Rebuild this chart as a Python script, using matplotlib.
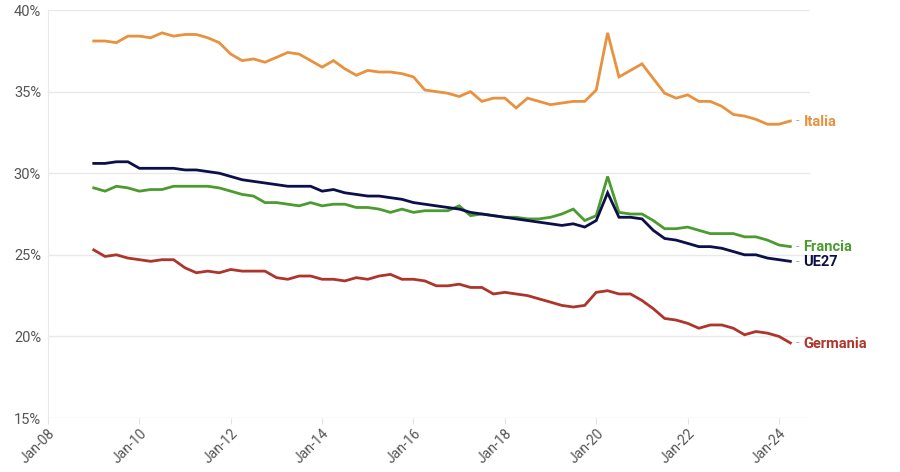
import pandas as pd
import matplotlib
matplotlib.use("Agg")
import matplotlib.pyplot as plt
import matplotlib.dates as mdates
from matplotlib.ticker import FuncFormatter

plt.rcParams['font.family'] = ['Roboto', 'DejaVu Sans']

# trimestri 2009Q1 - 2024Q2
dates = pd.date_range("2009-01-01", periods=62, freq="QS")

italia = [38.1, 38.1, 38.0, 38.4, 38.4, 38.3, 38.6, 38.4, 38.5, 38.5,
          38.3, 38.0, 37.3, 36.9, 37.0, 36.8, 37.1, 37.4, 37.3, 36.9,
          36.5, 36.9, 36.4, 36.0, 36.3, 36.2, 36.2, 36.1, 35.9, 35.1,
          35.0, 34.9, 34.7, 35.0, 34.4, 34.6, 34.6, 34.0, 34.6, 34.4,
          34.2, 34.3, 34.4, 34.4, 35.1, 38.6, 35.9, 36.3, 36.7, 35.8,
          34.9, 34.6, 34.8, 34.4, 34.4, 34.1, 33.6, 33.5, 33.3, 33.0,
          33.0, 33.2]
ue27 = [30.6, 30.6, 30.7, 30.7, 30.3, 30.3, 30.3, 30.3, 30.2, 30.2,
        30.1, 30.0, 29.8, 29.6, 29.5, 29.4, 29.3, 29.2, 29.2, 29.2,
        28.9, 29.0, 28.8, 28.7, 28.6, 28.6, 28.5, 28.4, 28.2, 28.1,
        28.0, 27.9, 27.8, 27.6, 27.5, 27.4, 27.3, 27.2, 27.1, 27.0,
        26.9, 26.8, 26.9, 26.7, 27.1, 28.8, 27.3, 27.3, 27.2, 26.5,
        26.0, 25.9, 25.7, 25.5, 25.5, 25.4, 25.2, 25.0, 25.0, 24.8,
        24.7, 24.6]
francia = [29.1, 28.9, 29.2, 29.1, 28.9, 29.0, 29.0, 29.2, 29.2, 29.2,
           29.2, 29.1, 28.9, 28.7, 28.6, 28.2, 28.2, 28.1, 28.0, 28.2,
           28.0, 28.1, 28.1, 27.9, 27.9, 27.8, 27.6, 27.8, 27.6, 27.7,
           27.7, 27.7, 28.0, 27.4, 27.5, 27.4, 27.3, 27.3, 27.2, 27.2,
           27.3, 27.5, 27.8, 27.1, 27.4, 29.8, 27.6, 27.5, 27.5, 27.1,
           26.6, 26.6, 26.7, 26.5, 26.3, 26.3, 26.3, 26.1, 26.1, 25.9,
           25.6, 25.5]
germania = [25.3, 24.9, 25.0, 24.8, 24.7, 24.6, 24.7, 24.7, 24.2, 23.9,
            24.0, 23.9, 24.1, 24.0, 24.0, 24.0, 23.6, 23.5, 23.7, 23.7,
            23.5, 23.5, 23.4, 23.6, 23.5, 23.7, 23.8, 23.5, 23.5, 23.4,
            23.1, 23.1, 23.2, 23.0, 23.0, 22.6, 22.7, 22.6, 22.5, 22.3,
            22.1, 21.9, 21.8, 21.9, 22.7, 22.8, 22.6, 22.6, 22.2, 21.7,
            21.1, 21.0, 20.8, 20.5, 20.7, 20.7, 20.5, 20.1, 20.3, 20.2,
            20.0, 19.6]

series = [
    ("Italia", italia, "#e8913f"),
    ("Francia", francia, "#4b9b2e"),
    ("UE27", ue27, "#0c0f4a"),
    ("Germania", germania, "#ad352b"),
]

fig = plt.figure(figsize=(9, 4.72), dpi=100)
ax = fig.add_axes([0.0533, 0.1144, 0.8467, 0.8644])

for name, vals, col in series:
    ax.plot(dates, vals, color=col, lw=2.0, solid_joinstyle="miter")
    # etichetta a fine linea
    ax.annotate("-", xy=(dates[-1], vals[-1]), xytext=(4, 0),
                textcoords="offset points", va="center", ha="left",
                color="#aaaaaa", fontsize=9)
    ax.annotate(name, xy=(dates[-1], vals[-1]), xytext=(9.5, -0.5),
                textcoords="offset points", va="center", ha="left",
                color=col, fontsize=10.5, fontweight="bold")

ax.set_ylim(15, 40)
ax.set_xlim(pd.Timestamp("2008-01-01"), pd.Timestamp("2024-09-05"))
ax.set_yticks([15, 20, 25, 30, 35, 40])
ax.yaxis.set_major_formatter(FuncFormatter(lambda v, p: f"{v:.0f}%"))
ax.xaxis.set_major_locator(mdates.YearLocator(2))
ax.xaxis.set_major_formatter(mdates.DateFormatter("Jan-%y"))

ax.grid(axis="y", color="#e9e9e9", lw=1)
ax.set_axisbelow(True)
for s in ["top", "right", "bottom"]:
    ax.spines[s].set_visible(False)
ax.spines["left"].set_color("#e9e9e9")
ax.tick_params(axis="y", length=0, labelsize=10.5, labelcolor="#555555", pad=5)
ax.tick_params(axis="x", length=4, color="#e2e2e2", labelsize=10,
               labelcolor="#555555", pad=2)
plt.setp(ax.get_xticklabels(), rotation=45, ha="right", rotation_mode="anchor")

fig.savefig("out.png", dpi=100)
